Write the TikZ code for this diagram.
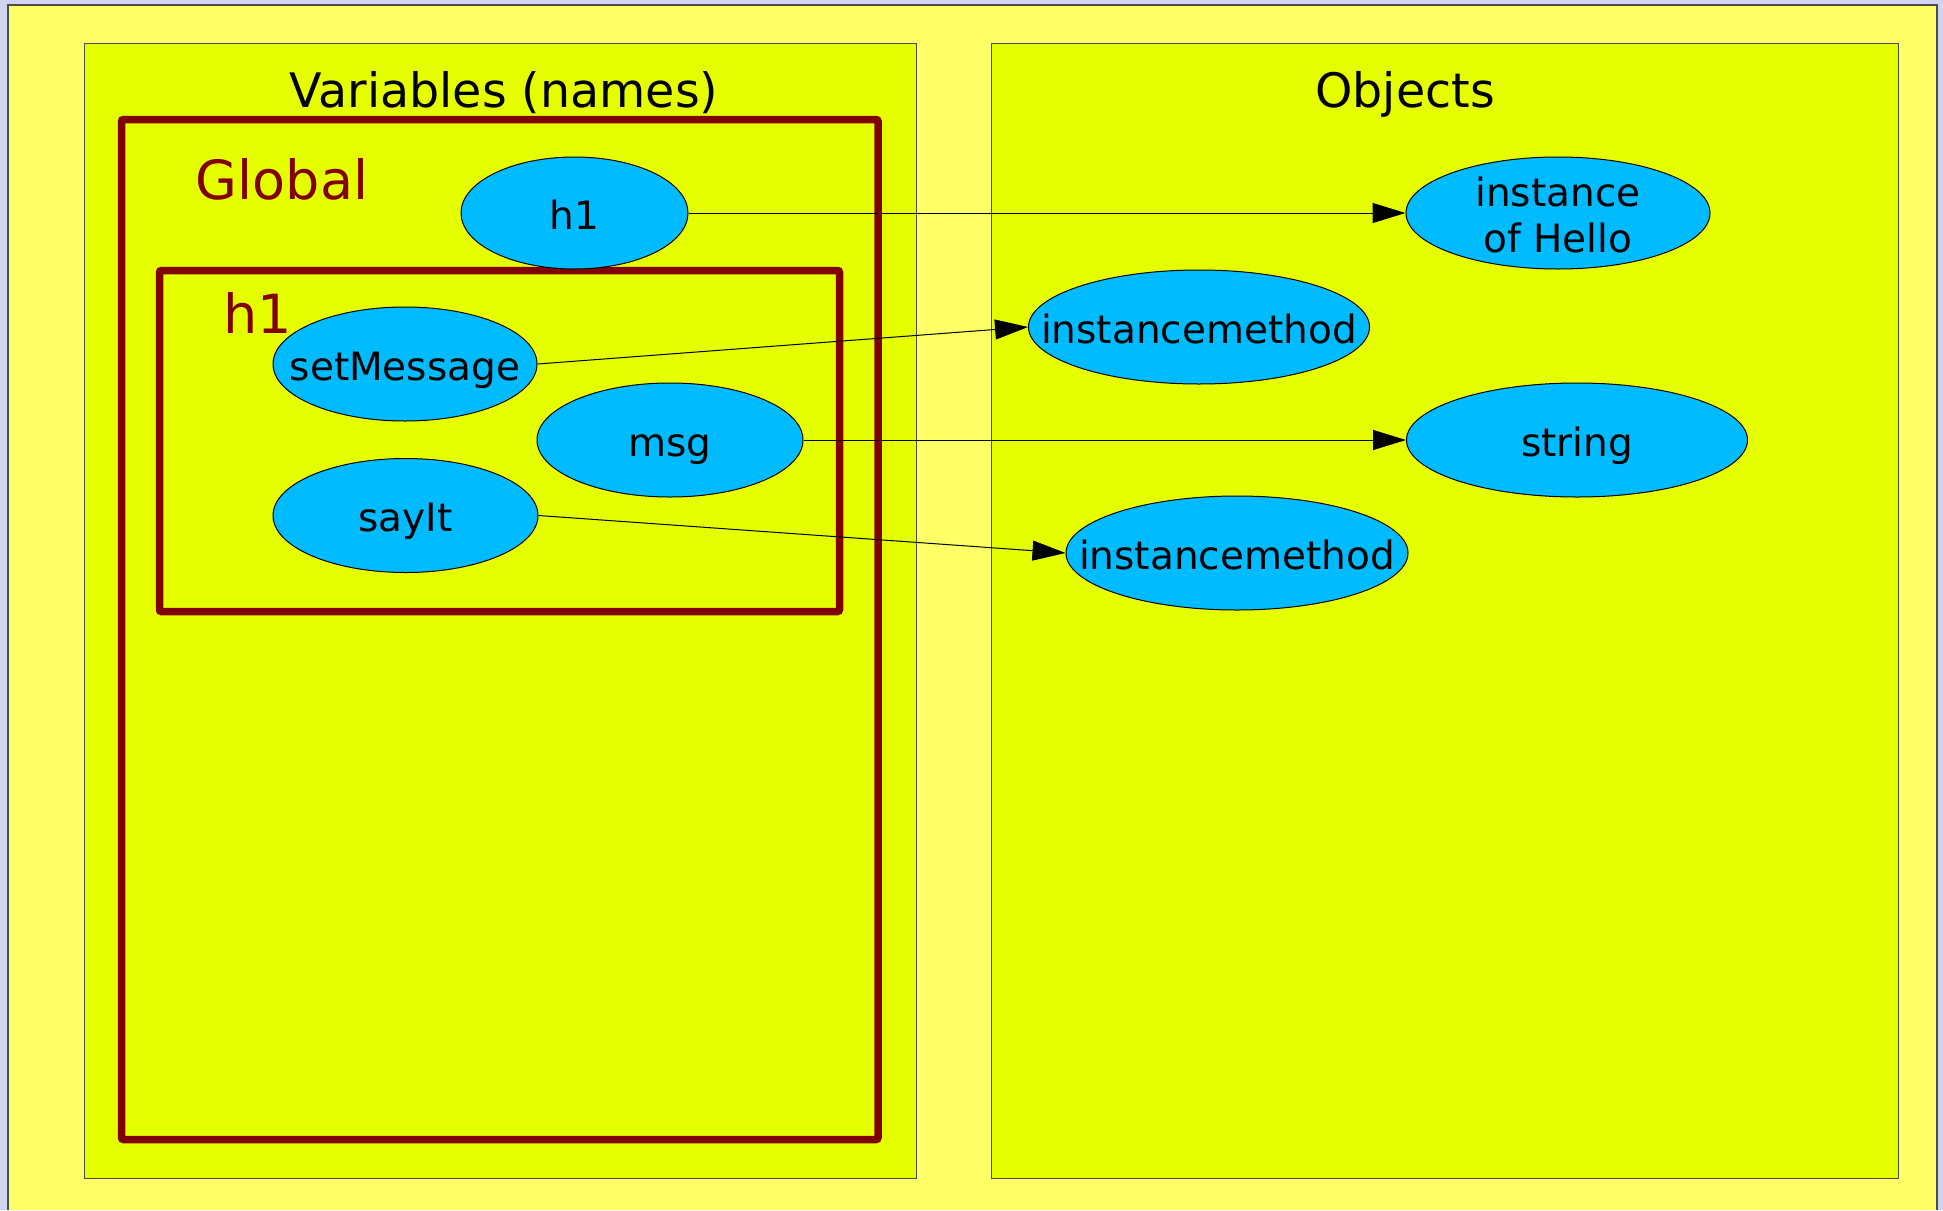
\documentclass[tikz,border=0pt]{standalone}
\usepackage{fontspec}
\setmainfont{DejaVu Sans}
\usepackage{xcolor}
\usetikzlibrary{shapes.geometric, arrows.meta}

\definecolor{pagebg}{HTML}{D0D4F0}
\definecolor{sheet}{HTML}{FFFF66}
\definecolor{panelgreen}{HTML}{E5FF00}
\definecolor{objblue}{HTML}{00BBFF}
\definecolor{scopered}{HTML}{800000}

\begin{document}
\begin{tikzpicture}[
    x=1pt, y=-1pt,
    font=\fontsize{39}{46}\selectfont,
    panel/.style={draw=black!70, fill=panelgreen, line width=1pt},
    scopebox/.style={draw=scopered, line width=7.5pt, rounded corners=2pt},
    title/.style={anchor=base, inner sep=0pt, font=\fontsize{47.5}{56}\selectfont},
    scopelabel/.style={anchor=base, inner sep=0pt, text=scopered, font=\fontsize{54}{64}\selectfont},
    blob/.style={ellipse, draw, fill=objblue, line width=1pt, inner sep=0pt, minimum height=114pt},
    every label/.style={text height=32pt, text depth=0pt},
    link/.style={draw, line width=1pt, -{Triangle[length=33pt, width=20pt]}}
]
% page and panels
\fill[pagebg] (0,0) rectangle (1943,1210);
\useasboundingbox (0,0) rectangle (1943,1210);
\fill[sheet] (8,5) rectangle (1937,1210);
\draw[black!70, line width=1.5pt] (8,1210) |- (1937,5) -- (1937,1210);
\draw[panel] (84,43) rectangle (916,1178);
\draw[panel] (991,43) rectangle (1898,1178);
\node[title] (varTitle) at (504,107) {Variables (names)};
\node[title] (objTitle) at (1405,107) {Objects};

% scopes
\draw[scopebox] (121.5,119.5) rectangle (878,1139.5);
\draw[scopebox] (159.5,270.5) rectangle (839.5,611.5);
\node[scopelabel] (globalLbl) at (282,199) {Global};
\node[scopelabel] (hLbl) at (258,333) {h1};

% names
\node[blob, minimum width=227pt, minimum height=112pt, label=center:h1] (h1) at (574.5,213) {};
\node[blob, minimum width=264pt, label=center:setMessage] (setMsg) at (405,364) {};
\node[blob, minimum width=266pt, label=center:msg] (msg) at (670,440) {};
\node[blob, minimum width=265pt, label=center:sayIt] (sayIt) at (405.5,515.5) {};

% objects
\node[blob, minimum width=304pt, minimum height=112pt,
      label={[align=center, text height=, text depth=, yshift=-2pt]center:instance\\of Hello}] (helloObj) at (1558,213) {};
\node[blob, minimum width=341pt, label=center:instancemethod] (methA) at (1199,327) {};
\node[blob, minimum width=341pt, label=center:string] (strObj) at (1577,440) {};
\node[blob, minimum width=342pt, label=center:instancemethod] (methB) at (1237,553) {};

% references
\draw[link] (h1.east) -- (helloObj.west);
\draw[link] (setMsg.east) -- (methA.west);
\draw[link] (msg.east) -- (strObj.west);
\draw[link] (sayIt.east) -- (methB.west);
\end{tikzpicture}
\end{document}
